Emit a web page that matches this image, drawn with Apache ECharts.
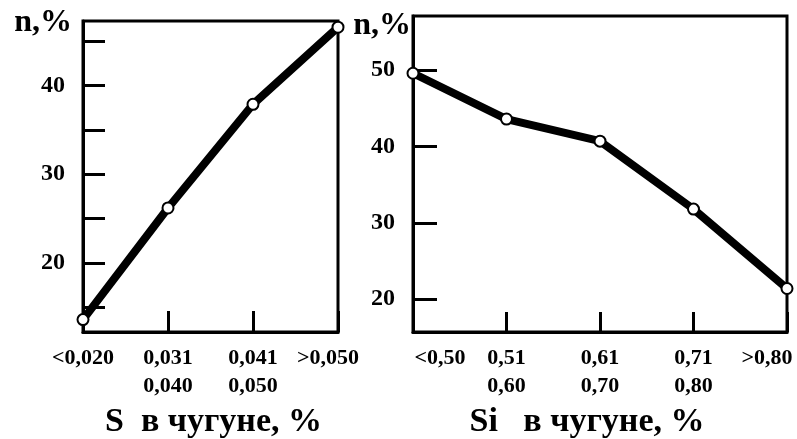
<!DOCTYPE html>
<html>
<head>
<meta charset="utf-8">
<script src="https://cdn.jsdelivr.net/npm/echarts@6/dist/echarts.min.js"></script>
<style>
  html, body { margin: 0; padding: 0; background: #fff; }
  #chart { width: 797px; height: 439px; }
</style>
</head>
<body>
<div id="chart"></div>
<script>
// содержание серы в чугуне
const sLabels = ['<0,020', '0,031\n0,040', '0,041\n0,050', '>0,050'];
const sValues = [13.6, 26.2, 37.9, 46.6];
const sTicks = [15, 20, 25, 30, 35, 40, 45];
const sTickLabels = [20, 30, 40];

// содержание кремния в чугуне
const siLabels = ['<0,50', '0,51\n0,60', '0,61\n0,70', '0,71\n0,80', '>0,80'];
const siValues = [49.6, 43.6, 40.7, 31.8, 21.4];
const siTicks = [20, 30, 40, 50];

const font = 'Liberation Serif';
const black = '#000';

let myChart = echarts.init(document.getElementById('chart'));

function xLabelStyle(rich) {
  return {
    color: black,
    fontFamily: font,
    fontWeight: 'bold',
    fontSize: 22,
    lineHeight: 28,
    margin: 12,
    rich: rich
  };
}

function richToken(padding) {
  return { color: black, fontFamily: font, fontWeight: 'bold', fontSize: 22, lineHeight: 28, padding: padding };
}

let option = {
  animation: false,
  grid: [
    { left: 83, top: 21, width: 255, height: 311, show: true, borderColor: black, borderWidth: 3, outerBoundsMode: 'none', containLabel: false },
    { left: 413, top: 16, width: 374, height: 316, show: true, borderColor: black, borderWidth: 3, outerBoundsMode: 'none', containLabel: false }
  ],
  xAxis: [
    {
      gridIndex: 0,
      type: 'category',
      boundaryGap: false,
      data: sLabels,
      axisLine: { lineStyle: { color: black, width: 3 } },
      axisTick: { inside: true, length: 21, lineStyle: { color: black, width: 3 } },
      axisLabel: Object.assign(xLabelStyle({ last: richToken([0, 20, 0, 0]) }), {
        interval: 0,
        formatter: function (v, i) {
          return i === sLabels.length - 1 ? '{last|' + v + '}' : v;
        }
      }),
      name: 'S  в чугуне, %',
      nameLocation: 'middle',
      nameGap: 71,
      nameTextStyle: { color: black, fontFamily: font, fontWeight: 'bold', fontSize: 34, padding: [0, 0, 0, 6] }
    },
    {
      gridIndex: 1,
      type: 'category',
      boundaryGap: false,
      data: siLabels,
      axisLine: { lineStyle: { color: black, width: 3 } },
      axisTick: { inside: true, length: 20, lineStyle: { color: black, width: 3 } },
      axisLabel: Object.assign(xLabelStyle({
        first: richToken([0, 0, 0, 54]),
        last: richToken([0, 40, 0, 0])
      }), {
        interval: 0,
        formatter: function (v, i) {
          if (i === 0) return '{first|' + v + '}';
          if (i === siLabels.length - 1) return '{last|' + v + '}';
          return v;
        }
      }),
      name: 'Si   в чугуне, %',
      nameLocation: 'middle',
      nameGap: 71,
      nameTextStyle: { color: black, fontFamily: font, fontWeight: 'bold', fontSize: 34, padding: [0, 26, 0, 0] }
    }
  ],
  yAxis: [
    {
      gridIndex: 0,
      type: 'value',
      min: 12.2,
      max: 47.3,
      splitLine: { show: false },
      axisLine: { show: true, lineStyle: { color: black, width: 3 } },
      axisTick: { show: true, inside: true, length: 22, customValues: sTicks, lineStyle: { color: black, width: 3 } },
      axisLabel: { customValues: sTickLabels, color: black, fontFamily: font, fontWeight: 'bold', fontSize: 24, margin: 18 },
      name: 'n,%',
      nameLocation: 'end',
      nameGap: -2,
      nameTextStyle: { color: black, fontFamily: font, fontWeight: 'bold', fontSize: 32, align: 'right', verticalAlign: 'middle', padding: [0, 11, 0, 0] }
    },
    {
      gridIndex: 1,
      type: 'value',
      min: 15.7,
      max: 57.1,
      splitLine: { show: false },
      axisLine: { show: true, lineStyle: { color: black, width: 3 } },
      axisTick: { show: true, inside: true, length: 24, customValues: siTicks, lineStyle: { color: black, width: 3 } },
      axisLabel: { customValues: siTicks, color: black, fontFamily: font, fontWeight: 'bold', fontSize: 24, margin: 18 },
      name: 'n,%',
      nameLocation: 'end',
      nameGap: -10,
      nameTextStyle: { color: black, fontFamily: font, fontWeight: 'bold', fontSize: 32, align: 'right', verticalAlign: 'middle', padding: [0, 2, 0, 0] }
    }
  ],
  series: [
    {
      type: 'line',
      xAxisIndex: 0,
      yAxisIndex: 0,
      data: sValues,
      symbol: 'circle',
      symbolSize: 11,
      lineStyle: { color: black, width: 8 },
      itemStyle: { color: '#fff', borderColor: black, borderWidth: 2 }
    },
    {
      type: 'line',
      xAxisIndex: 1,
      yAxisIndex: 1,
      data: siValues,
      symbol: 'circle',
      symbolSize: 11,
      lineStyle: { color: black, width: 8 },
      itemStyle: { color: '#fff', borderColor: black, borderWidth: 2 }
    }
  ]
};

myChart.setOption(option);
window.onresize = myChart.resize;
</script>
</body>
</html>
